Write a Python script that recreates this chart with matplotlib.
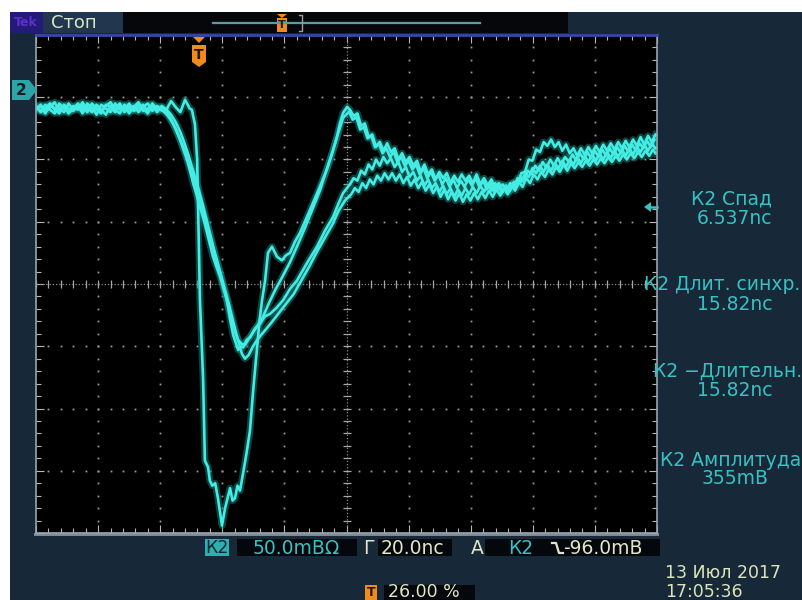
import matplotlib
matplotlib.use('Agg')
import matplotlib.pyplot as plt
from matplotlib.patches import Rectangle, Polygon
import numpy as np

W, H = 803, 600

# ---------------- data (time in ns relative to trigger, voltage in mV) ----------------
x_limits = (-52.5, 147.5)      # 10 div x 20 ns
y_limits = (-356.0, 44.0)      # 8 div x 50 mV
ns_per_div = 20.0
mv_per_div = 50.0

trace_a = [(-52.5, -14), (-51, -17), (-49.5, -12), (-48, -16), (-46.5, -19), (-45, -11), (-43.5, -15),
           (-42, -18), (-40.5, -13), (-39, -16), (-37.5, -10), (-36, -17), (-34.5, -14), (-33, -20),
           (-31.5, -12), (-30, -15), (-28.5, -18), (-27, -11), (-25.5, -16), (-24, -13), (-22.5, -19),
           (-21, -14), (-19.5, -10), (-18, -17), (-16.5, -15), (-15, -12), (-13.5, -18), (-12, -13),
           (-10.5, -16), (-9, -9), (-7.5, -14), (-6, -18), (-4.5, -8), (-3, -15),
           (-2.3, -16), (-1.3, -28), (-0.6, -56), (0.3, -169), (1.3, -231), (1.9, -298), (2.9, -303),
           (3.5, -314), (4.3, -318), (5.2, -316), (6.1, -328), (6.8, -340), (7.4, -350), (8.4, -336),
           (9.2, -328), (10.0, -320), (10.8, -330), (11.6, -328), (12.4, -318), (13.2, -322), (14.2, -308),
           (15.3, -292), (16.4, -274), (17.5, -240), (18.7, -207), (19.5, -185), (20.3, -169), (21.3, -153),
           (22.2, -131), (23.5, -126), (24.3, -130), (25.1, -134), (26.7, -137), (28.0, -133), (29.3, -131),
           (30.9, -122), (32.5, -115), (34.6, -103), (36.7, -91), (38.9, -78), (41.2, -64), (42.8, -52),
           (44.4, -38), (45.4, -27), (46.4, -18.5), (47.7, -13.7),
           (48.6, -16), (49.8, -21), (51.0, -19), (52.2, -29), (53.4, -27), (54.6, -38), (55.8, -36),
           (57.0, -46), (58.2, -42), (59.4, -49), (60.6, -43), (61.8, -50), (63.0, -47), (64.2, -56),
           (65.4, -51), (66.6, -58), (67.8, -54), (69.0, -61), (70.2, -57), (71.4, -66), (72.6, -60),
           (73.8, -68), (75.0, -64), (76.2, -72), (77.4, -66), (78.6, -71), (79.8, -67), (81.0, -75),
           (82.2, -69), (83.4, -74), (84.6, -68), (85.8, -73), (87.0, -69), (88.2, -75), (89.4, -68),
           (90.6, -76), (91.8, -71), (93.0, -77), (94.2, -72), (95.4, -80), (96.6, -75), (97.8, -82),
           (99.0, -77), (100.2, -81), (101.4, -74), (102.6, -76), (103.8, -67), (105.0, -66), (106.2, -56),
           (107.4, -57), (108.6, -48), (109.8, -50), (111.0, -42), (112.2, -45), (113.4, -40), (114.6, -46),
           (115.8, -42), (117.0, -49), (118.2, -44), (119.4, -51), (120.6, -47), (121.8, -53), (123.0, -47),
           (124.2, -52), (125.4, -46), (126.6, -51), (127.8, -45), (129.0, -50), (130.2, -44), (131.4, -49),
           (132.6, -43), (133.8, -48), (135.0, -42), (136.2, -47), (137.4, -41), (138.6, -46), (139.8, -40),
           (141.0, -45), (142.2, -38), (143.4, -44), (144.6, -37), (145.8, -42), (147.0, -36)]

trace_b = [(-52.5, -16), (-51, -12), (-49.5, -18), (-48, -14), (-46.5, -10), (-45, -17), (-43.5, -13),
           (-42, -19), (-40.5, -15), (-39, -11), (-37.5, -16), (-36, -14), (-34.5, -18), (-33, -12),
           (-31.5, -16), (-30, -20), (-28.5, -13), (-27, -15), (-25.5, -11), (-24, -18), (-22.5, -14),
           (-21, -16), (-19.5, -12), (-18, -15), (-16.5, -19), (-15, -11), (-13.5, -16), (-12, -14),
           (-10.5, -17), (-9.3, -22.5), (-8.0, -29), (-6.8, -36), (-5.6, -43), (-4.5, -50), (-3.2, -59),
           (-1.9, -68), (-0.8, -78), (0.3, -88.6), (1.6, -100), (2.9, -111), (4.0, -122), (5.2, -133),
           (6.3, -143), (7.4, -153), (8.4, -163), (9.3, -173), (10.2, -181), (11.0, -189), (11.8, -196),
           (12.6, -201), (13.7, -204), (14.8, -205), (16.0, -200), (17.1, -196), (18.7, -190), (20.3, -184),
           (22.4, -172), (24.5, -161), (26.9, -150), (29.3, -138.5), (31.7, -125), (34.1, -111), (36.5, -96),
           (39.0, -80.5), (41.1, -64), (43.2, -48), (44.8, -35), (46.4, -22.5),
           (48.3, -17.7), (49.5, -24), (50.7, -22), (51.9, -32), (53.1, -30), (54.3, -39), (55.5, -37),
           (56.7, -46), (57.9, -43), (59.1, -51), (60.3, -47), (61.5, -54), (62.7, -50), (63.9, -58),
           (65.1, -54), (66.3, -61), (67.5, -57), (68.7, -64), (69.9, -60), (71.1, -68), (72.3, -63),
           (73.5, -71), (74.7, -66), (75.9, -73), (77.1, -68), (78.3, -76), (79.5, -71), (80.7, -78),
           (81.9, -72), (83.1, -79), (84.3, -73), (85.5, -78), (86.7, -72), (87.9, -77), (89.1, -71),
           (90.3, -78), (91.5, -73), (92.7, -80), (93.9, -75), (95.1, -82), (96.3, -76), (97.5, -83),
           (98.7, -77), (99.9, -82), (101.1, -75), (102.3, -78), (103.5, -70), (104.7, -73), (105.9, -65),
           (107.1, -68), (108.3, -61), (109.5, -65), (110.7, -58), (111.9, -63), (113.1, -56), (114.3, -61),
           (115.5, -55), (116.7, -60), (117.9, -54), (119.1, -58), (120.3, -52), (121.5, -57), (122.7, -51),
           (123.9, -56), (125.1, -50), (126.3, -55), (127.5, -49), (128.7, -54), (129.9, -48), (131.1, -53),
           (132.3, -47), (133.5, -52), (134.7, -46), (135.9, -51), (137.1, -45), (138.3, -50), (139.5, -44),
           (140.7, -49), (141.9, -43), (143.1, -47), (144.3, -41), (145.5, -46), (146.7, -40)]

trace_c = [(-52.5, -13), (-51, -18), (-49.5, -15), (-48, -11), (-46.5, -16), (-45, -19), (-43.5, -12),
           (-42, -15), (-40.5, -17), (-39, -13), (-37.5, -19), (-36, -11), (-34.5, -15), (-33, -16),
           (-31.5, -19), (-30, -12), (-28.5, -14), (-27, -18), (-25.5, -13), (-24, -16), (-22.5, -11),
           (-21, -17), (-19.5, -15), (-18, -12), (-16.5, -18), (-15, -14),
           (-13.5, -15), (-11.6, -17), (-10.0, -21), (-8.4, -27), (-7.2, -33), (-6.1, -40), (-5.0, -48),
           (-3.9, -56), (-2.9, -65), (-1.9, -75), (-0.8, -84), (0.3, -94), (1.5, -104), (2.6, -115),
           (3.6, -125), (4.5, -134), (5.6, -142), (6.8, -150), (7.9, -160), (9.0, -169), (10.0, -184),
           (11.0, -197), (11.8, -203), (12.6, -209), (13.4, -206), (14.2, -207), (15.3, -201), (16.4, -199),
           (18.0, -192), (19.6, -188), (21.2, -182), (22.9, -180), (25.0, -175), (27.1, -169), (29.3, -160),
           (31.6, -153), (34.8, -139), (38.0, -126), (40.6, -113), (43.2, -102), (44.8, -92), (46.4, -83),
           (48.6, -76), (49.8, -71), (51.0, -73), (52.2, -65), (53.4, -68), (54.6, -60), (55.8, -64),
           (57.0, -56), (58.2, -61), (59.4, -54), (60.6, -59), (61.8, -55), (63.0, -62), (64.2, -58),
           (65.4, -66), (66.6, -62), (67.8, -70), (69.0, -66), (70.2, -73), (71.4, -69), (72.6, -77),
           (73.8, -72), (75.0, -79), (76.2, -75), (77.4, -82), (78.6, -77), (79.8, -84), (81.0, -79),
           (82.2, -86), (83.4, -80), (84.6, -85), (85.8, -79), (87.0, -84), (88.2, -78), (89.4, -83),
           (90.6, -77), (91.8, -82), (93.0, -76), (94.2, -81), (95.4, -75), (96.6, -80), (97.8, -76),
           (99.0, -81), (100.2, -75), (101.4, -78), (102.6, -71), (103.8, -74), (105.0, -67), (106.2, -70),
           (107.4, -63), (108.6, -67), (109.8, -61), (111.0, -66), (112.2, -60), (113.4, -65), (114.6, -59),
           (115.8, -63), (117.0, -57), (118.2, -62), (119.4, -56), (120.6, -60), (121.8, -54), (123.0, -59),
           (124.2, -53), (125.4, -58), (126.6, -52), (127.8, -57), (129.0, -51), (130.2, -56), (131.4, -50),
           (132.6, -55), (133.8, -49), (135.0, -54), (136.2, -48), (137.4, -53), (138.6, -47), (139.8, -52),
           (141.0, -46), (142.2, -50), (143.4, -44), (144.6, -49), (145.8, -43), (147.0, -47)]

trace_d = [(-52.5, -15), (-51, -13), (-49.5, -19), (-48, -12), (-46.5, -15), (-45, -14), (-43.5, -18),
           (-42, -11), (-40.5, -16), (-39, -14), (-37.5, -13), (-36, -18), (-34.5, -11), (-33, -15),
           (-31.5, -17), (-30, -13), (-28.5, -10), (-27, -16), (-25.5, -19), (-24, -12), (-22.5, -16),
           (-21, -13), (-19.5, -18), (-18, -14), (-16.5, -11), (-15, -17), (-13.5, -13), (-12, -16),
           (-10.5, -16), (-9.0, -20), (-7.5, -26), (-6.0, -34), (-4.8, -42), (-3.6, -51), (-2.4, -61),
           (-1.2, -71), (0.0, -81), (1.2, -92), (2.4, -104), (3.6, -116), (4.8, -128), (6.0, -139),
           (7.2, -150), (8.4, -161), (9.6, -172), (10.8, -184), (11.8, -194), (12.8, -203), (13.8, -212),
           (14.8, -216), (16.0, -213), (17.4, -206), (19.0, -200), (21.0, -194), (23.0, -188), (25.5, -180),
           (28.0, -172), (30.5, -164), (33.0, -153), (35.5, -142), (38.0, -130), (40.5, -119), (43.0, -108),
           (45.0, -97), (47.0, -89),
           (49.0, -84), (50.2, -79), (51.4, -82), (52.6, -75), (53.8, -79), (55.0, -72), (56.2, -76),
           (57.4, -69), (58.6, -73), (59.8, -67), (61.0, -72), (62.2, -67), (63.4, -73), (64.6, -68),
           (65.8, -75), (67.0, -70), (68.2, -77), (69.4, -72), (70.6, -79), (71.8, -74), (73.0, -81),
           (74.2, -76), (75.4, -83), (76.6, -78), (77.8, -86), (79.0, -80), (80.2, -88), (81.4, -82),
           (82.6, -89), (83.8, -83), (85.0, -90), (86.2, -84), (87.4, -89), (88.6, -83), (89.8, -88),
           (91.0, -82), (92.2, -87), (93.4, -81), (94.6, -86), (95.8, -80), (97.0, -85), (98.2, -79),
           (99.4, -84), (100.6, -77), (101.8, -81), (103.0, -74), (104.2, -78), (105.4, -71), (106.6, -75),
           (107.8, -68), (109.0, -72), (110.2, -66), (111.4, -70), (112.6, -64), (113.8, -68), (115.0, -62),
           (116.2, -66), (117.4, -60), (118.6, -65), (119.8, -59), (121.0, -63), (122.2, -58), (123.4, -62),
           (124.6, -57), (125.8, -61), (127.0, -56), (128.2, -60), (129.4, -55), (130.6, -59), (131.8, -54),
           (133.0, -58), (134.2, -53), (135.4, -57), (136.6, -52), (137.8, -56), (139.0, -51), (140.2, -55),
           (141.4, -50), (142.6, -54), (143.8, -49), (145.0, -53), (146.2, -48), (147.0, -51)]

traces = [trace_d, trace_c, trace_b, trace_a]

status_text = "Стоп"
brand_text = "Tek"
channel_label = "2"
right_titles = ["К2 Спад", "К2 Длит. синхр.", "К2 −Длительн.", "К2 Амплитуда"]
right_values = ["6.537nс", "15.82nс", "15.82nс", "355mВ"]
scale_ch = "К2"
scale_volt = "50.0mВΩ"
scale_time_prefix = "Г"
scale_time = "20.0nс"
trig_prefix = "A"
trig_ch = "К2"
trig_level = "-96.0mВ"
trig_pos = "26.00 %"
date_text = "13 Июл 2017"
time_text = "17:05:36"

# ---------------- colours ----------------
NAVY = '#172839'
TEAL = '#36c2c2'
PALE = '#e2e6c6'
ORANGE = '#f08c1e'
TRACE = '#44ece4'
TRACE_DARK = '#168a82'
GRIDC = '#9a9a9a'

fig = plt.figure(figsize=(W / 100, H / 100), dpi=100, facecolor=NAVY)

# background pixel axes
bg = fig.add_axes([0, 0, 1, 1], zorder=0)
bg.set_xlim(0, W); bg.set_ylim(H, 0); bg.axis('off')
bg.add_patch(Rectangle((0, 0), 10, H, color='white', lw=0))
bg.add_patch(Rectangle((0, 0), W, 12, color='white', lw=0))
# header
bg.add_patch(Rectangle((10, 12), 33, 21, color='#221c78', lw=0))
bg.add_patch(Rectangle((43, 12), 80, 21, color='#22364e', lw=0))
bg.add_patch(Rectangle((123, 12), 445, 21, color='#05070b', lw=0))
bg.plot([213, 480], [23, 23], color='#5e9c9c', lw=1.6)
bg.plot([299, 302, 302, 299], [15, 15, 31, 31], color='#9aa0a0', lw=1)
bg.add_patch(Polygon([(277, 14), (287, 14), (282, 18)], color=ORANGE, lw=0))
bg.add_patch(Rectangle((277, 18), 10, 14, color=ORANGE, lw=0))
bg.text(282, 25.5, 'T', color='#2a1606', fontsize=8, fontweight='bold', ha='center', va='center')
bg.text(14, 22.5, brand_text, color='#5a30c8', fontsize=9, fontweight='bold', ha='left', va='center')
bg.text(51, 22.5, status_text, color='#d6e6c8', fontsize=13, ha='left', va='center')
# bottom plot border strip
bg.add_patch(Rectangle((34, 533), 625, 3, color='#7d8a96', lw=0))

# ---------------- main scope axes ----------------
ax = fig.add_axes([36 / W, (H - 533) / H, (657 - 36) / W, (533 - 35) / H], zorder=1, facecolor='black')
ax.set_xlim(*x_limits)
ax.set_ylim(*y_limits)

major_x = np.arange(x_limits[0], x_limits[1] + 0.01, ns_per_div)
major_y = np.arange(y_limits[0], y_limits[1] + 0.01, mv_per_div)
minor_x = np.arange(x_limits[0], x_limits[1] + 0.01, ns_per_div / 5)
minor_y = np.arange(y_limits[0], y_limits[1] + 0.01, mv_per_div / 5)
ax.set_xticks(major_x); ax.set_yticks(major_y)
ax.set_xticks(minor_x, minor=True); ax.set_yticks(minor_y, minor=True)
ax.tick_params(which='both', direction='in', top=True, right=True, bottom=True, left=True,
               labelbottom=False, labelleft=False, color='#b8b8b8', width=0.8)
ax.tick_params(which='major', length=6)
ax.tick_params(which='minor', length=3.5)
for s in ['left', 'right', 'bottom']:
    ax.spines[s].set_color('#9aa4ae'); ax.spines[s].set_linewidth(1.2)
ax.spines['top'].set_color('#3646a6'); ax.spines['top'].set_linewidth(2)

cx = (x_limits[0] + x_limits[1]) / 2
cy = (y_limits[0] + y_limits[1]) / 2
for gx in major_x[1:-1]:
    if abs(gx - cx) < 1e-6:
        continue
    ax.plot(np.full(len(minor_y) - 2, gx), minor_y[1:-1], ls='none', marker='s', ms=1.3, mew=0, color=GRIDC)
for gy in major_y[1:-1]:
    if abs(gy - cy) < 1e-6:
        continue
    ax.plot(minor_x[1:-1], np.full(len(minor_x) - 2, gy), ls='none', marker='s', ms=1.3, mew=0, color=GRIDC)
ax.axvline(cx, color='#8c8c8c', lw=0.9, ls=(0, (1, 1.6)))
ax.axhline(cy, color='#8c8c8c', lw=0.9, ls=(0, (1, 1.6)))
ax.plot(minor_x, np.full(len(minor_x), cy), ls='none', marker='|', ms=6, mew=0.9, color='#a8a8a8')
ax.plot(np.full(len(minor_y), cx), minor_y, ls='none', marker='_', ms=6, mew=0.9, color='#a8a8a8')

for tr in traces:
    t = [p[0] for p in tr]
    v = [p[1] for p in tr]
    ax.plot(t, v, color=TRACE_DARK, lw=5, alpha=0.5, solid_joinstyle='round')
for tr in traces:
    t = [p[0] for p in tr]
    v = [p[1] for p in tr]
    ax.plot(t, v, color=TRACE, lw=1.9, solid_joinstyle='round')

# ---------------- overlay (pixels) ----------------
ov = fig.add_axes([0, 0, 1, 1], zorder=2)
ov.set_xlim(0, W); ov.set_ylim(H, 0); ov.axis('off'); ov.patch.set_alpha(0)

# trigger marker
tx = 199
ov.add_patch(Polygon([(tx - 6, 37), (tx + 6, 37), (tx, 43)], color=ORANGE, lw=0))
ov.add_patch(Polygon([(tx - 7, 45), (tx + 7, 45), (tx + 7, 62), (tx, 67), (tx - 7, 62)], color=ORANGE, lw=0))
ov.text(tx, 55, 'T', color='#2a1606', fontsize=10, fontweight='bold', ha='center', va='center')

# channel 2 ground marker
ov.add_patch(Polygon([(12, 80), (29, 80), (37, 90), (29, 100), (12, 100)], color='#2aa6a6', lw=0))
ov.text(21, 90.5, channel_label, color='#0c1a26', fontsize=11, fontweight='bold', ha='center', va='center')

# measurement reference arrow
ov.add_patch(Polygon([(644, 207), (651, 202), (651, 212)], color=TEAL, lw=0))
ov.plot([650, 657], [207, 207], color=TEAL, lw=1.8)

# right measurement panel
title_cx = [732, 722, 728, 731]
title_y = [199, 285, 371, 460]
for s, cxp, yy, val in zip(right_titles, title_cx, title_y, right_values):
    ov.text(cxp, yy, s, color=TEAL, fontsize=13.5, ha='center', va='center')
    ov.text(735, yy + 19, val, color=TEAL, fontsize=13.5, ha='center', va='center')

# bottom status line
by = 548
ov.add_patch(Rectangle((205, 539), 24, 17, color='#2cb0b0', lw=0))
ov.text(217, by, scale_ch, color='#10263a', fontsize=12.5, ha='center', va='center')
ov.add_patch(Rectangle((237, 539), 120, 17, color='#04070b', lw=0))
ov.text(253, by, scale_volt, color=TEAL, fontsize=13.5, ha='left', va='center')
ov.text(363, by, scale_time_prefix, color=PALE, fontsize=13.5, ha='left', va='center')
ov.add_patch(Rectangle((378, 539), 74, 17, color='#04070b', lw=0))
ov.text(381, by, scale_time, color=PALE, fontsize=13.5, ha='left', va='center')
ov.text(471, by, trig_prefix, color=PALE, fontsize=13.5, ha='left', va='center')
ov.add_patch(Rectangle((485, 539), 175, 17, color='#04070b', lw=0))
ov.text(508, by, trig_ch, color=TEAL, fontsize=13.5, ha='left', va='center')
ov.plot([552, 556, 559, 563], [543, 543, 553, 553], color=PALE, lw=1.6)
ov.text(563, by, trig_level, color=PALE, fontsize=13.5, ha='left', va='center')

ov.add_patch(Rectangle((365, 585), 12, 15, color=ORANGE, lw=0))
ov.text(371, 592.5, 'T', color='#2a1606', fontsize=9, fontweight='bold', ha='center', va='center')
ov.add_patch(Rectangle((384, 585), 91, 15, color='#04070b', lw=0))
ov.text(388, 592, trig_pos, color=PALE, fontsize=12.5, ha='left', va='center')

ov.text(665, 573, date_text, color='#dce4b8', fontsize=12.5, ha='left', va='center')
ov.text(665, 592, time_text, color='#dce4b8', fontsize=12.5, ha='left', va='center')

fig.savefig('out.png', dpi=100, facecolor=NAVY)
